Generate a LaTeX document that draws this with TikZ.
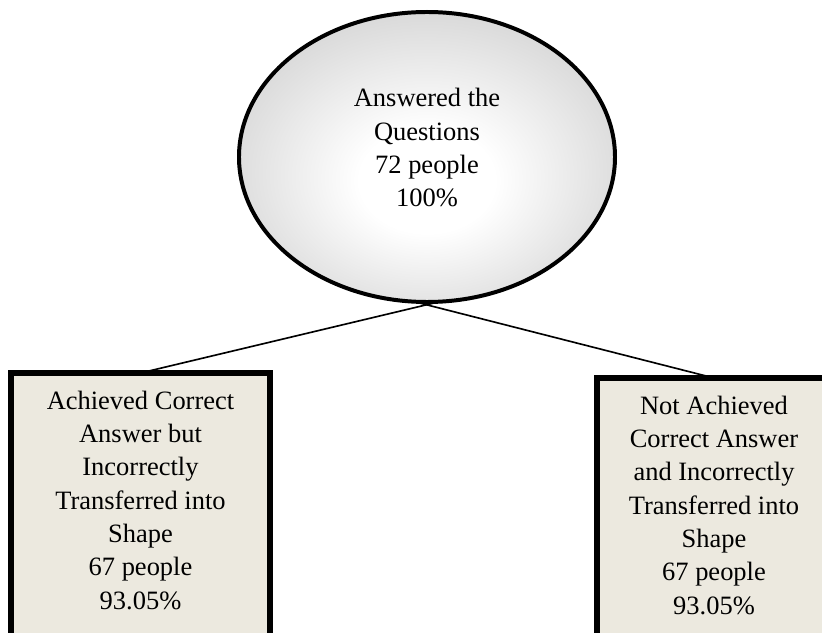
\documentclass[tikz,border=0pt]{standalone}
\usepackage{fontspec}
\setmainfont{Liberation Serif}
\usetikzlibrary{shapes.geometric}
\definecolor{boxfill}{RGB}{236,233,223}
\pgfdeclareradialshading{ovalgray}{\pgfpoint{0bp}{-5bp}}{color(0bp)=(white); color(9bp)=(white); color(50bp)=(black!33)}

\begin{document}
\begin{tikzpicture}[x=0.015cm, y=0.015cm,
	every node/.style={font=\fontsize{11.3}{14.2}\selectfont, outer sep=0pt},
	oval/.style={ellipse, draw=black, line width=1.7pt, shade, shading=ovalgray, minimum width=5.64cm, minimum height=4.35cm, inner sep=0pt, align=center},
	answerbox/.style={rectangle, draw=black, line width=2.4pt, fill=boxfill, inner sep=0.27cm, anchor=north},
	link/.style={draw=black, line width=0.7pt}]
			\useasboundingbox (0,0) rectangle (822,633);
			\clip (0,0) rectangle (822,633);
			
			\node[oval] (a) at (427,476){Answered the\\Questions\\72 people\\100\%\rule[-8pt]{0pt}{0pt}};
			\node[answerbox] (b) at (140.5,260){\parbox[t][120pt][t]{3.345cm}{\centering Achieved Correct\\Answer but\\Incorrectly\\Transferred into\\Shape\\67 people\\93.05\%}};
			\node[answerbox] (c) at (714,255){\parbox[t][120pt][t]{2.97cm}{\centering Not Achieved\\Correct Answer\\and Incorrectly\\Transferred into\\Shape\\67 people\\93.05\%}};
			
			\path[link] (a.-85) -- (b.north);
			\path[link] (a.-95) -- (c.north);
			\end{tikzpicture}
\end{document}
